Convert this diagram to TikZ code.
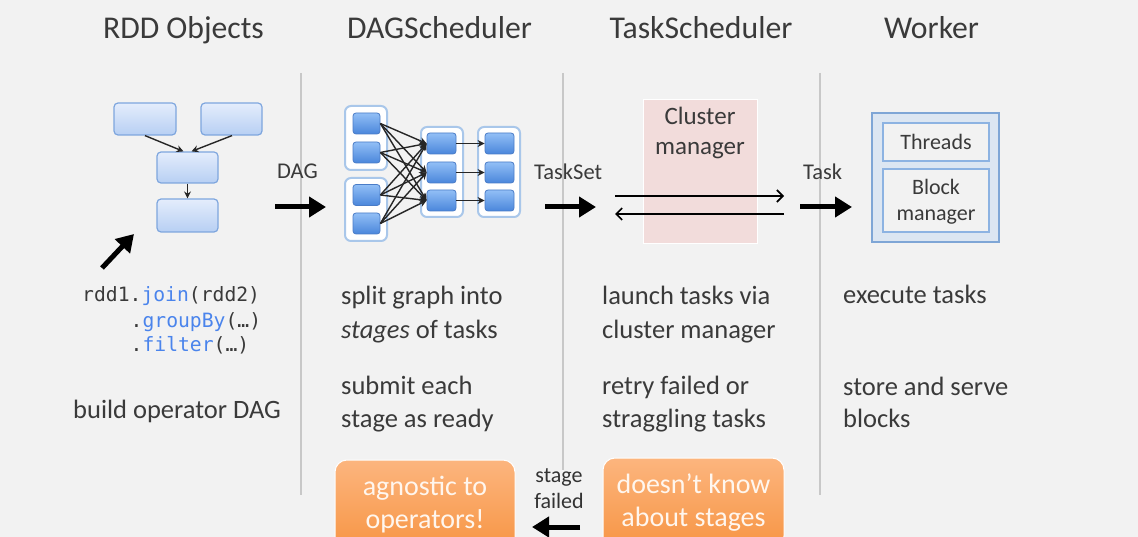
\documentclass[tikz,border=0pt]{standalone}
\usepackage{fontspec}
\setmainfont{Carlito}
\newfontfamily\codefont{DejaVu Sans Mono}
\usetikzlibrary{arrows.meta,calc}
\definecolor{bg}{HTML}{F2F2F2}
\definecolor{txt}{HTML}{3A3A3A}
\definecolor{sepc}{HTML}{C8C8C8}
\definecolor{codeblue}{HTML}{4A84EC}
\definecolor{rddtop}{HTML}{E4EDFC}
\definecolor{rddbot}{HTML}{B7CFF3}
\definecolor{rdddraw}{HTML}{7EA6DE}
\definecolor{tasktop}{HTML}{92BFF6}
\definecolor{taskbot}{HTML}{4A86DB}
\definecolor{taskdraw}{HTML}{4A7CC7}
\definecolor{grpdraw}{HTML}{A9C7EA}
\definecolor{clpink}{HTML}{F2DCDB}
\definecolor{wkfill}{HTML}{DCE6F2}
\definecolor{wkdraw}{HTML}{7FA6D6}
\definecolor{wkin}{HTML}{8DB3E2}
\definecolor{ortop}{HTML}{FCB57E}
\definecolor{orbot}{HTML}{F79544}
\definecolor{ortext}{HTML}{FFF6EE}
\tikzset{
  title/.style={anchor=base, text=txt, font=\fontsize{31.7}{36}\selectfont, inner sep=0pt},
  body/.style={anchor=base west, text=txt, font=\fontsize{26.5}{32}\selectfont, inner sep=0pt},
  lbl/.style={anchor=base west, text=txt, font=\fontsize{22.5}{26}\selectfont, inner sep=0pt},
  code/.style={anchor=base west, text=txt, font=\codefont\fontsize{19.7}{24}\selectfont, inner sep=0pt},
  sepline/.style={draw=sepc, line width=2pt},
  bigarrow/.style={line width=5pt, -{Triangle[length=17pt,width=20pt]}},
  thinarrow/.style={line width=1.6pt, -{Straight Barb[length=6pt,width=12pt]}},
  smallarrow/.style={line width=1.4pt, draw=black!85, -{Stealth[length=7pt,width=7pt]}},
  rddbox/.style={rectangle, rounded corners=4pt, top color=rddtop, bottom color=rddbot, draw=rdddraw, line width=1.2pt, inner sep=0pt},
  grpbox/.style={rectangle, rounded corners=6pt, fill=white, draw=grpdraw, line width=2pt, minimum width=42pt, inner sep=0pt},
  taskbox/.style={rectangle, rounded corners=3pt, top color=tasktop, bottom color=taskbot, draw=taskdraw, line width=0.8pt, minimum height=21pt, inner sep=0pt},
  orbox/.style={rectangle, rounded corners=12pt, top color=ortop, bottom color=orbot, draw=white, line width=1pt, text=ortext, align=center, font=\fontsize{28}{33}\selectfont, inner sep=0pt},
}
\begin{document}
\begin{tikzpicture}[x=1pt,y=-1pt]
\useasboundingbox (0,0) rectangle (1138,537);
\clip (0,0) rectangle (1138,537);
\fill[bg] (0,0) rectangle (1138,537);

% separators
\draw[sepline] (301,73) -- (301,495);
\draw[sepline] (563,73) -- (563,470);
\draw[sepline] (820,73) -- (820,495);

% titles
\node[title] (t1) at (183.5,39) {RDD Objects};
\node[title] (t2) at (439.5,39) {DAGScheduler};
\node[title] (t3) at (701,39) {TaskScheduler};
\node[title] (t4) at (931.5,39) {Worker};

% RDD objects
\node[rddbox, minimum width=62pt, minimum height=32pt] (r1) at (145,119) {};
\node[rddbox, minimum width=61pt, minimum height=32pt] (r2) at (231.5,119) {};
\node[rddbox, minimum width=61pt, minimum height=31pt] (r3) at (187.5,167.5) {};
\node[rddbox, minimum width=61pt, minimum height=33pt] (r4) at (187.5,215.5) {};
\draw[smallarrow] (r1.south) -- ($(r3.north)+(-4,0)$);
\draw[smallarrow] ($(r2.south)+(0.5,0)$) -- ($(r3.north)+(4,0)$);
\draw[smallarrow] (r3.south) -- (r4.north);

\coordinate (ca) at (102,268);
\coordinate (cb) at (134,234);
\draw[bigarrow] (ca) -- (cb);

\node[code] (c1) at (82,302) {rdd1.\textcolor{codeblue}{join}(rdd2)};
\node[code] (c2) at (130.5,327) {.\textcolor{codeblue}{groupBy}(…)};
\node[code] (c3) at (130.5,352) {.\textcolor{codeblue}{filter}(…)};
\node[body] (bo) at (73,418) {build operator DAG};

% DAG arrow
\node[lbl] (dagl) at (277,179) {DAG};
\coordinate (da) at (275,207);
\coordinate (db) at (326,207);
\draw[bigarrow] (da) -- (db);

% DAG scheduler graph
\node[grpbox, minimum height=64pt] (g1) at (366,138) {};
\node[grpbox, minimum height=63pt] (g2) at (366,209.5) {};
\node[grpbox, minimum height=90pt] (g3) at (442,172) {};
\node[grpbox, minimum height=90pt] (g4) at (499,172) {};
\node[taskbox, minimum width=27pt] (b11) at (366.5,123.5) {};
\node[taskbox, minimum width=27pt] (b12) at (366.5,152.5) {};
\node[taskbox, minimum width=27pt] (b21) at (366.5,195) {};
\node[taskbox, minimum width=27pt] (b22) at (366.5,223.5) {};
\node[taskbox, minimum width=29pt] (m1) at (441.5,143.5) {};
\node[taskbox, minimum width=29pt] (m2) at (441.5,172.5) {};
\node[taskbox, minimum width=29pt] (m3) at (441.5,200.5) {};
\node[taskbox, minimum width=29pt] (n1) at (499.5,143.5) {};
\node[taskbox, minimum width=29pt] (n2) at (499.5,172.5) {};
\node[taskbox, minimum width=29pt] (n3) at (499.5,200.5) {};
\foreach \s in {b11,b12,b21,b22}{
  \foreach \t in {m1,m2,m3}{
    \draw[smallarrow] (\s.east) -- (\t.west);
  }
}
\draw[smallarrow] (m1.east) -- (n1.west);
\draw[smallarrow] (m2.east) -- (n2.west);
\draw[smallarrow] (m3.east) -- (n3.west);

\node[body] (s1) at (341,305) {split graph into};
\node[body] (s2) at (341,338) {\textit{stages} of tasks};
\node[body] (s3) at (341,394) {submit each};
\node[body] (s4) at (341,427) {stage as ready};

% TaskSet
\node[lbl] (tsl) at (534,180) {TaskSet};
\coordinate (ta) at (545,207);
\coordinate (tb) at (596,207);
\draw[bigarrow] (ta) -- (tb);

% cluster manager
\node[rectangle, fill=clpink, draw=white, line width=0.8pt, minimum width=114pt, minimum height=144pt, inner sep=0pt] (cm) at (700,171) {};
\node[anchor=base, text=txt, font=\fontsize{25}{30}\selectfont, inner sep=0pt] (cm1) at (700,125) {Cluster};
\node[anchor=base, text=txt, font=\fontsize{25}{30}\selectfont, inner sep=0pt] (cm2) at (700,155) {manager};
\coordinate (u1) at (615,196);
\coordinate (u2) at (784,196);
\coordinate (l1) at (784,214);
\coordinate (l2) at (615,214);
\draw[thinarrow] (u1) -- (u2);
\draw[thinarrow] (l1) -- (l2);

\node[body] (k1) at (602,305) {launch tasks via};
\node[body] (k2) at (602,338) {cluster manager};
\node[body] (k3) at (602,394) {retry failed or};
\node[body] (k4) at (602,427) {straggling tasks};

% Task
\node[lbl] (tkl) at (803,180) {Task};
\coordinate (wa) at (800,207);
\coordinate (wb) at (852,207);
\draw[bigarrow] (wa) -- (wb);

% worker
\node[rectangle, fill=wkfill, draw=wkdraw, line width=2.5pt, minimum width=127pt, minimum height=129pt, inner sep=0pt] (wk) at (935.5,177.5) {};
\node[rectangle, fill=bg, draw=wkin, line width=1.5pt, minimum width=106pt, minimum height=38pt, inner sep=0pt] (th) at (936,142) {};
\node[rectangle, fill=bg, draw=wkin, line width=1.5pt, minimum width=106pt, minimum height=63pt, inner sep=0pt] (bm) at (936,200.5) {};
\node[anchor=base, text=txt, font=\fontsize{22}{26}\selectfont, inner sep=0pt] (thl) at (936,150) {Threads};
\node[anchor=base, text=txt, font=\fontsize{22}{26}\selectfont, inner sep=0pt] (bml1) at (936,195) {Block};
\node[anchor=base, text=txt, font=\fontsize{22}{26}\selectfont, inner sep=0pt] (bml2) at (936,221) {manager};

\node[body] (w1) at (843,304) {execute tasks};
\node[body] (w2) at (843,395) {store and serve};
\node[body] (w3) at (843,427) {blocks};

% bottom notes
\node[orbox, minimum width=180pt, minimum height=90pt] (ag) at (425,505) {agnostic to\\operators!};
\node[orbox, minimum width=181pt, minimum height=90pt] (dk) at (693.5,503) {doesn’t know\\about stages};
\node[anchor=base, text=black!80, font=\fontsize{22}{26}\selectfont, inner sep=0pt] (sf1) at (559,482) {stage};
\node[anchor=base, text=black!80, font=\fontsize{22}{26}\selectfont, inner sep=0pt] (sf2) at (559,508) {failed};
\coordinate (fa) at (580,527);
\coordinate (fb) at (532,527);
\draw[bigarrow] (fa) -- (fb);
\end{tikzpicture}
\end{document}
